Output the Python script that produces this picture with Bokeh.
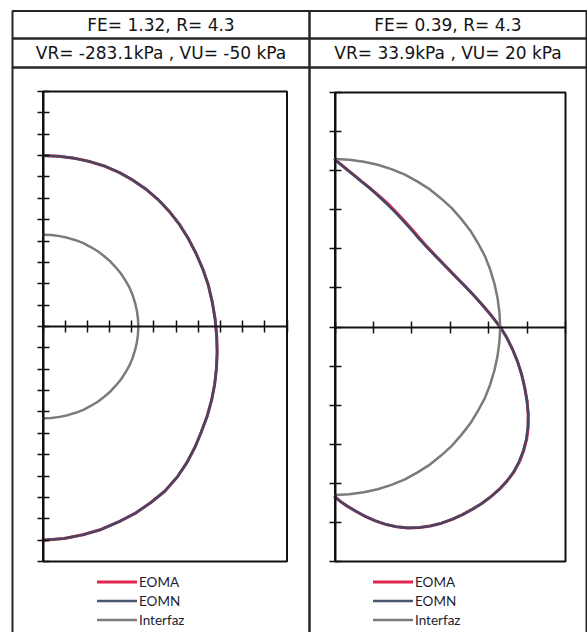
from bokeh.plotting import figure
from bokeh.models import (Range1d, LinearAxis, FixedTicker, BoxAnnotation, Label,
                          Legend, LegendItem)
from bokeh.embed import file_html
from bokeh.resources import INLINE

# ---------------- data ----------------
left_title = "FE= 1.32, R= 4.3"
left_subtitle = "VR= -283.1kPa , VU= -50 kPa"
right_title = "FE= 0.39, R= 4.3"
right_subtitle = "VR= 33.9kPa , VU= 20 kPa"
series_names = ["EOMA", "EOMN", "Interfaz"]

left_x_ticks = [0, 1, 2, 3, 4, 5, 6, 7, 8, 9, 10, 11]
left_y_ticks = [-11, -10, -9, -8, -7, -6, -5, -4, -3, -2, -1, 0,
                1, 2, 3, 4, 5, 6, 7, 8, 9, 10, 11]
right_x_ticks = [0, 1, 2, 3, 4, 5, 6]
right_y_ticks = [-6, -5, -4, -3, -2, -1, 0, 1, 2, 3, 4, 5, 6]

# left panel: outer envelope (EOMA / EOMN) and interface circle
left_eoma_x = [0, 0.7, 1.4, 2.1, 2.8, 3.45, 4.05, 4.65, 5.2, 5.7, 6.15, 6.55, 6.9, 7.2, 7.45, 7.63, 7.76,
               7.83, 7.85, 7.82, 7.74, 7.6, 7.4, 7.13, 6.85, 6.5, 6.05, 5.5, 4.85, 4.15, 3.4, 2.62, 1.8, 0.95, 0]
left_eoma_y = [8.0, 7.97, 7.88, 7.72, 7.5, 7.2, 6.85, 6.42, 5.93, 5.38, 4.78, 4.12, 3.42, 2.7, 1.95, 1.15, 0.35,
               -0.45, -1.2, -1.95, -2.7, -3.45, -4.2, -4.95, -5.65, -6.35, -7.05, -7.7, -8.25, -8.75, -9.15, -9.5, -9.75, -9.92, -10.0]
left_eomn_x = [0, 0.7, 1.4, 2.1, 2.8, 3.45, 4.05, 4.65, 5.2, 5.7, 6.15, 6.55, 6.9, 7.2, 7.45, 7.63, 7.76,
               7.83, 7.85, 7.82, 7.74, 7.6, 7.4, 7.13, 6.85, 6.5, 6.05, 5.5, 4.85, 4.15, 3.4, 2.62, 1.8, 0.95, 0]
left_eomn_y = [8.0, 7.97, 7.88, 7.72, 7.5, 7.2, 6.85, 6.42, 5.93, 5.38, 4.78, 4.12, 3.42, 2.7, 1.95, 1.15, 0.35,
               -0.45, -1.2, -1.95, -2.7, -3.45, -4.2, -4.95, -5.65, -6.35, -7.05, -7.7, -8.25, -8.75, -9.15, -9.5, -9.75, -9.92, -10.0]
left_interfaz_x = [0, 0.37, 0.75, 1.11, 1.47, 1.82, 2.15, 2.47, 2.76, 3.04, 3.29, 3.52, 3.72, 3.9, 4.04, 4.15, 4.23, 4.28, 4.3,
                   4.28, 4.23, 4.15, 4.04, 3.9, 3.72, 3.52, 3.29, 3.04, 2.76, 2.47, 2.15, 1.82, 1.47, 1.11, 0.75, 0.37, 0]
left_interfaz_y = [4.3, 4.28, 4.23, 4.15, 4.04, 3.9, 3.72, 3.52, 3.29, 3.04, 2.76, 2.47, 2.15, 1.82, 1.47, 1.11, 0.75, 0.37, 0,
                   -0.37, -0.75, -1.11, -1.47, -1.82, -2.15, -2.47, -2.76, -3.04, -3.29, -3.52, -3.72, -3.9, -4.04, -4.15, -4.23, -4.28, -4.3]

# right panel: lens-shaped envelope (EOMA / EOMN) and interface circle
right_eoma_x = [0, 0.18, 0.35, 0.53, 0.7, 0.88, 1.05, 1.22, 1.4, 1.6, 1.8, 2.0, 2.2, 2.4, 2.6, 2.8, 3.0, 3.2, 3.4, 3.62, 3.85, 4.08, 4.3,
                4.47, 4.62, 4.75, 4.86, 4.94, 5.0, 5.03, 5.03, 4.99, 4.91, 4.8, 4.65, 4.47, 4.28, 4.06, 3.83, 3.58, 3.32, 3.05, 2.77, 2.48,
                2.2, 1.9, 1.6, 1.32, 1.05, 0.8, 0.55, 0.33, 0.15, 0]
right_eoma_y = [4.28, 4.14, 4.0, 3.86, 3.72, 3.58, 3.44, 3.29, 3.13, 2.93, 2.72, 2.5, 2.27, 2.05, 1.84, 1.64, 1.43, 1.23, 1.03, 0.8, 0.55, 0.28, 0,
                -0.27, -0.57, -0.88, -1.22, -1.56, -1.9, -2.23, -2.56, -2.87, -3.17, -3.45, -3.72, -3.95, -4.15, -4.34, -4.51, -4.66, -4.8, -4.92, -5.02, -5.09,
                -5.13, -5.14, -5.11, -5.05, -4.96, -4.85, -4.72, -4.59, -4.47, -4.35]
right_eomn_x = [0, 0.18, 0.35, 0.53, 0.7, 0.88, 1.05, 1.22, 1.4, 1.6, 1.8, 2.0, 2.2, 2.4, 2.6, 2.8, 3.0, 3.2, 3.4, 3.62, 3.85, 4.08, 4.3,
                4.47, 4.62, 4.75, 4.86, 4.94, 5.0, 5.03, 5.02, 4.98, 4.9, 4.79, 4.64, 4.47, 4.28, 4.06, 3.83, 3.58, 3.32, 3.05, 2.77, 2.48,
                2.2, 1.9, 1.6, 1.32, 1.05, 0.8, 0.55, 0.33, 0.15, 0]
right_eomn_y = [4.28, 4.13, 3.99, 3.85, 3.71, 3.57, 3.42, 3.27, 3.1, 2.9, 2.69, 2.47, 2.24, 2.03, 1.83, 1.63, 1.43, 1.23, 1.03, 0.8, 0.55, 0.28, 0,
                -0.27, -0.57, -0.88, -1.22, -1.56, -1.9, -2.23, -2.56, -2.87, -3.17, -3.45, -3.72, -3.95, -4.15, -4.34, -4.51, -4.66, -4.8, -4.92, -5.02, -5.09,
                -5.13, -5.14, -5.11, -5.05, -4.96, -4.85, -4.72, -4.59, -4.47, -4.35]
right_interfaz_x = [0, 0.37, 0.75, 1.11, 1.47, 1.82, 2.15, 2.47, 2.76, 3.04, 3.29, 3.52, 3.72, 3.9, 4.04, 4.15, 4.23, 4.28, 4.3,
                    4.28, 4.23, 4.15, 4.04, 3.9, 3.72, 3.52, 3.29, 3.04, 2.76, 2.47, 2.15, 1.82, 1.47, 1.11, 0.75, 0.37, 0]
right_interfaz_y = [4.3, 4.28, 4.23, 4.15, 4.04, 3.9, 3.72, 3.52, 3.29, 3.04, 2.76, 2.47, 2.15, 1.82, 1.47, 1.11, 0.75, 0.37, 0,
                    -0.37, -0.75, -1.11, -1.47, -1.82, -2.15, -2.47, -2.76, -3.04, -3.29, -3.52, -3.72, -3.9, -4.04, -4.15, -4.23, -4.28, -4.3]

# ---------------- layout constants (pixels) ----------------
W, H = 587, 632
TABLE_L, TABLE_M, TABLE_R = 12, 309, 586
ROW_Y = [10.5, 38, 67, 700]
COLORS = {"EOMA": "#E0264E", "EOMN": "#3A4A64", "Interfaz": "#7C7C76"}
TITLE_FONT = "DejaVu Sans"
LEGEND_FONT = "Lato"


def mapped_range(v0, p0, v1, p1, pmin, pmax):
    s = (p1 - p0) / (v1 - v0)
    return Range1d(start=v0 + (pmin - p0) / s, end=v0 + (pmax - p0) / s)


p = figure(width=W, height=H, x_range=Range1d(0, W), y_range=Range1d(H, 0),
           min_border=0, toolbar_location=None, output_backend="svg",
           x_axis_type=None, y_axis_type=None)
p.outline_line_color = None
p.xgrid.visible = False
p.ygrid.visible = False
p.background_fill_color = "white"
p.border_fill_color = "white"

# table cells
for (l, r) in [(TABLE_L, TABLE_M), (TABLE_M, TABLE_R)]:
    for i in range(3):
        p.add_layout(BoxAnnotation(left=l, right=r, top=ROW_Y[i], bottom=ROW_Y[i + 1],
                                   fill_color=None, fill_alpha=0,
                                   line_color="#262626", line_alpha=1.0, line_width=2))

panels = [
    dict(key="l", xt=left_x_ticks, yt=left_y_ticks,
         px=(42.5, 286.5), py=(561, 91),
         series=[(left_eoma_x, left_eoma_y), (left_eomn_x, left_eomn_y), (left_interfaz_x, left_interfaz_y)],
         title=left_title, subtitle=left_subtitle, cx=(TABLE_L + TABLE_M) / 2, legend_x=97),
    dict(key="r", xt=right_x_ticks, yt=right_y_ticks,
         px=(334.5, 565), py=(561, 92),
         series=[(right_eoma_x, right_eoma_y), (right_eomn_x, right_eomn_y), (right_interfaz_x, right_interfaz_y)],
         title=right_title, subtitle=right_subtitle, cx=(TABLE_M + TABLE_R) / 2, legend_x=373),
]

for pan in panels:
    xn, yn = "x" + pan["key"], "y" + pan["key"]
    x0, x1 = pan["xt"][0], pan["xt"][-1]
    y0, y1 = pan["yt"][0], pan["yt"][-1]
    p.extra_x_ranges[xn] = mapped_range(x0, pan["px"][0], x1, pan["px"][1], 0, W)
    p.extra_y_ranges[yn] = mapped_range(y0, pan["py"][0], y1, pan["py"][1], H, 0)

    # plot area frame
    p.add_layout(BoxAnnotation(left=x0, right=x1, bottom=y0, top=y1,
                               x_range_name=xn, y_range_name=yn,
                               fill_color=None, fill_alpha=0,
                               line_color="#111111", line_alpha=1.0, line_width=2, level="underlay"))

    renderers = []
    widths = [3, 2.6, 2.5]
    alphas = [1.0, 0.92, 1.0]
    for name, (sx, sy), w, a in zip(series_names, pan["series"], widths, alphas):
        r = p.line(sx, sy, x_range_name=xn, y_range_name=yn, line_color=COLORS[name],
                   line_width=w, line_alpha=a, line_join="round", line_cap="round")
        renderers.append(r)

    for side, dim_ticks, bounds in [("left", pan["yt"], (y0, y1)), ("below", pan["xt"], (x0, x1))]:
        ax = LinearAxis(x_range_name=xn, y_range_name=yn, fixed_location=0,
                        bounds=bounds, ticker=FixedTicker(ticks=dim_ticks))
        ax.axis_line_color = "#111111"
        ax.axis_line_width = 2
        ax.major_tick_line_color = "#111111"
        ax.major_tick_line_width = 1.5
        ax.major_tick_in = 6
        ax.major_tick_out = 6
        ax.minor_tick_line_color = None
        ax.major_label_text_color = None
        p.add_layout(ax, side)

    # titles
    p.add_layout(Label(x=pan["cx"], y=(ROW_Y[0] + ROW_Y[1]) / 2, text=pan["title"],
                       text_align="center", text_baseline="middle",
                       text_font=TITLE_FONT, text_font_size="17px", text_color="#141414"))
    p.add_layout(Label(x=pan["cx"], y=(ROW_Y[1] + ROW_Y[2]) / 2, text=pan["subtitle"],
                       text_align="center", text_baseline="middle",
                       text_font=TITLE_FONT, text_font_size="17px", text_color="#141414"))

    legend = Legend(items=[LegendItem(label=n, renderers=[r]) for n, r in zip(series_names, renderers)],
                    location=(pan["legend_x"], 3), orientation="vertical",
                    glyph_width=40, glyph_height=19, label_height=19, spacing=0,
                    padding=0, margin=0, label_standoff=2,
                    border_line_color=None, background_fill_alpha=0,
                    label_text_font=LEGEND_FONT, label_text_font_size="13.5px",
                    label_text_color="#1c1c34")
    p.add_layout(legend)

open("out.html", "w").write(file_html(p, INLINE))
